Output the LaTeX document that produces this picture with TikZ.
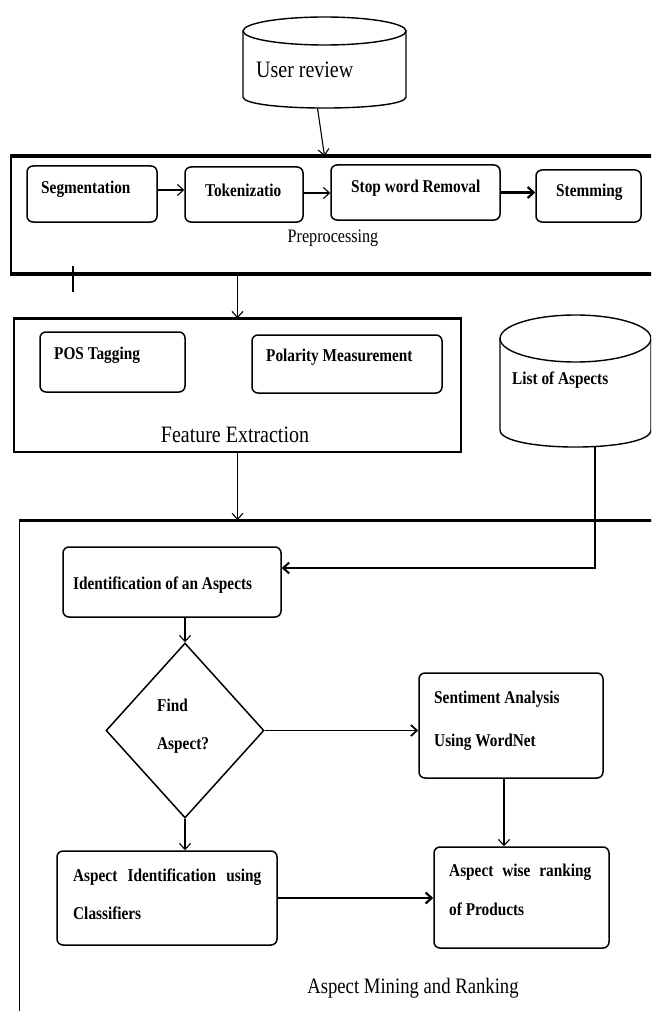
\documentclass[tikz,border=0pt]{standalone}
\usepackage{fontspec}
\setmainfont[FakeStretch=0.85]{Liberation Serif}
\usetikzlibrary{arrows.meta,shapes.geometric,calc}
\begin{document}
\begin{tikzpicture}[x=1pt,y=-1pt,
  box/.style={draw, rounded corners=6pt, line width=1.5pt, inner sep=0pt},
  cont/.style={draw, line width=1.5pt, inner sep=0pt},
  cyl/.style={line width=1.4pt},
  arr/.style={-{Straight Barb[length=6pt,width=11pt]}, line width=1.1pt},
  tarr/.style={arr, line width=2.2pt},
  lbl/.style={font=\fontsize{18}{21}\selectfont\bfseries, inner sep=0pt, anchor=west},
  ttl/.style={inner sep=0pt}]
\useasboundingbox (0,0) rectangle (651,1011);
\clip (0,0) rectangle (651,1011);

% User review cylinder
\draw[cyl] (243,31) -- (243,97) .. controls (243,111.7) and (406,111.7) .. (406,97) -- (406,31);
\draw[cyl] (324.5,31) ellipse [x radius=81.5pt, y radius=14pt];
\node[minimum width=163pt, minimum height=91pt, inner sep=0pt] (ur) at (324.5,62.5) {};
\node[ttl, anchor=west, font=\fontsize{23.5}{26}\selectfont] (urt) at (256,70) {User review};

% Preprocessing
\node[cont, line width=2pt, minimum width=670pt, minimum height=116pt] (pre) at (346,215) {};
\draw[line width=3pt] (pre.north west) -- (pre.north east);
\draw[line width=3pt] (pre.south west) -- (pre.south east);
\node[box, minimum width=130pt, minimum height=56pt] (seg) at (92,194) {};
\node[box, minimum width=118pt, minimum height=55pt] (tok) at (244,194.5) {};
\node[box, minimum width=169pt, minimum height=55pt] (stop) at (415.5,192.5) {};
\node[box, minimum width=105pt, minimum height=52pt] (stem) at (588.5,196) {};
\node[lbl] (tseg) at (41,189) {Segmentation};
\node[lbl] (ttok) at (205,190) {Tokenizatio};
\node[lbl] (tstop) at (351,188) {Stop word Removal};
\node[lbl] (tstem) at (556,192) {Stemming};
\node[ttl, font=\fontsize{19}{22}\selectfont] (pret) at (333,238) {Preprocessing};
\draw[arr] ([yshift=4pt]seg.east) -- ([yshift=4pt]seg.east -| tok.west);
\draw[arr] ([yshift=1.5pt]tok.east) -- ([yshift=1.5pt]tok.east -| stop.west);
\draw[tarr] (stop.east) -- (stop.east -| stem.west);

% stray tick
\coordinate (tickA) at (73,266);
\coordinate (tickB) at (73,292);
\draw[line width=1.1pt] (tickA) -- (tickB);

% Feature Extraction
\node[cont, minimum width=447pt, minimum height=133pt] (fe) at (237.5,385.5) {};
\draw[line width=2.6pt] (fe.north west) -- (fe.north east);
\node[box, minimum width=145pt, minimum height=60pt] (pos) at (112.5,362) {};
\node[box, minimum width=190pt, minimum height=58pt] (pol) at (347,364) {};
\node[lbl] (tpos) at (54,355) {POS Tagging};
\node[lbl] (tpol) at (266,357) {Polarity Measurement};
\node[ttl, font=\fontsize{23.5}{26}\selectfont] (fet) at (235,435) {Feature Extraction};

% List of Aspects cylinder
\draw[cyl] (500,338.5) -- (500,430) .. controls (500,452.7) and (651,452.7) .. (651,430) -- (651,338.5);
\draw[cyl] (575.5,338.5) ellipse [x radius=75.5pt, y radius=23.5pt];
\node[minimum width=151pt, minimum height=132pt, inner sep=0pt] (loa) at (575.5,381) {};
\node[lbl] (tloa) at (512,380) {List of Aspects};

% arrows between stages
\draw[arr] ([xshift=-7pt]ur.south) -- (ur.south |- pre.north);
\draw[arr] (pre.south -| fe.north) -- (fe.north);

% Aspect Mining and Ranking
\node[cont, line width=1.8pt, minimum width=660.5pt, minimum height=519pt] (am) at (349.75,780.5) {};
\draw[line width=2.6pt] (am.north west) -- (am.north east);
\draw[arr] (fe.south) -- (fe.south |- am.north);

\node[box, minimum width=218pt, minimum height=70pt] (ident) at (172,582) {};
\node[lbl] (tident) at (73,585) {Identification of an Aspects};
\node[draw, diamond, line width=1.5pt, minimum width=158pt, minimum height=175pt, inner sep=0pt] (dia) at (185,730.5) {};
\node[lbl] (tfind) at (157,705) {Find};
\node[lbl] (tasp) at (157,745) {Aspect?};
\node[box, minimum width=184pt, minimum height=105pt] (sent) at (511,725.5) {};
\node[lbl] (tsent1) at (434,699) {Sentiment Analysis};
\node[lbl] (tsent2) at (434,742) {Using WordNet};
\node[box, minimum width=220pt, minimum height=94pt] (cls) at (167,898) {};
\node[lbl] (tcls1) at (73,877) {\makebox[188pt][s]{Aspect Identification using}};
\node[lbl] (tcls2) at (73,913) {Classifiers};
\node[box, minimum width=175pt, minimum height=101pt] (rank) at (521.5,897.5) {};
\node[lbl] (trank1) at (449,872) {\makebox[142pt][s]{Aspect wise ranking}};
\node[lbl] (trank2) at (449,909) {of Products};
\node[ttl, font=\fontsize{22}{25}\selectfont] (amt) at (413,988) {Aspect Mining and Ranking};

\draw[tarr, line width=2pt] ([xshift=19.5pt]loa.south) |- ([yshift=14pt]ident.east);
\draw[arr] (ident.south -| dia.north) -- (dia.north);
\draw[tarr, line width=1.8pt] (dia.east) -- (dia.east -| sent.west);
\draw[arr] ([xshift=-7pt]sent.south) -- ([xshift=-7pt]sent.south |- rank.north);
\draw[arr] (dia.south) -- (dia.south |- cls.north);
\draw[tarr] (cls.east) -- (cls.east -| rank.west);
\end{tikzpicture}
\end{document}
